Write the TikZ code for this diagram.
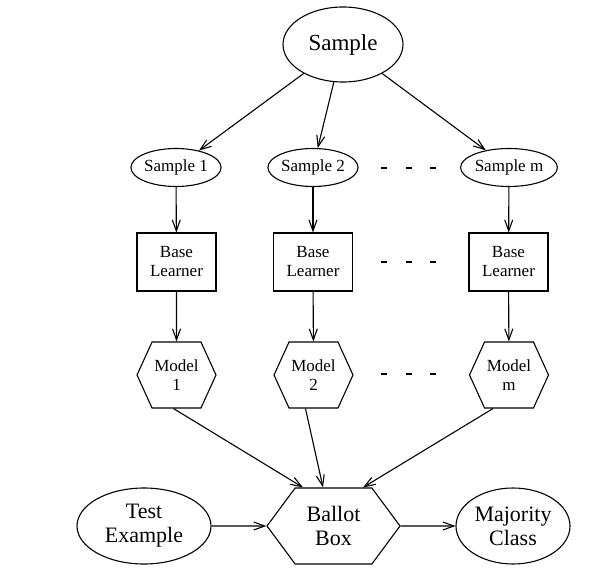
\documentclass[tikz,border=0pt]{standalone}
\usepackage{fontspec}
\setmainfont{Liberation Serif}
\usetikzlibrary{shapes.geometric,shapes.symbols,arrows.meta,calc}
\begin{document}
\begin{tikzpicture}[x=1pt,y=-1pt,
  every node/.style={inner sep=0pt, align=center, line width=1.1pt},
  small/.style={font=\fontsize{17}{19}\selectfont},
  big/.style={font=\fontsize{22}{24}\selectfont},
  ell/.style={draw, ellipse},
  boxnode/.style={draw, rectangle, small, minimum width=79pt, minimum height=58pt},
  hexmodel/.style={draw, signal, signal to=east and west, signal pointer angle=131, small, minimum width=79pt, minimum height=66pt},
  hexballot/.style={draw, signal, signal to=east and west, signal pointer angle=107, big, minimum width=133pt, minimum height=76pt},
  conn/.style={line width=1.1pt, -{Straight Barb[length=11pt,width=8pt,line width=1.1pt]}},
  dots/.style={line width=1.1pt, dash pattern=on 6pt off 18.5pt}
]
\useasboundingbox (0,0) rectangle (602,588);

\node[ell, font=\fontsize{23}{25}\selectfont, minimum width=120pt, minimum height=75pt] (s) at (343,44.5) {Sample};

\node[ell, small, minimum width=88pt, minimum height=38pt] (s1) at (176,167.5) {Sample 1};
\node[ell, small, minimum width=90pt, minimum height=38pt] (s2) at (313,167.5) {Sample 2};
\node[ell, small, minimum width=88pt, minimum height=38pt] (sm) at (509,167.5) {Sample m};

\node[boxnode] (b1) at (176.5,262) {Base\\Learner};
\node[boxnode] (b2) at (313,262) {Base\\Learner};
\node[boxnode] (bm) at (508.5,262) {Base\\Learner};

\node[hexmodel] (m1) at (176.5,375) {Model\\1};
\node[hexmodel] (m2) at (313.5,375) {Model\\2};
\node[hexmodel] (mm) at (509,375) {Model\\m};

\node[hexballot] (ballot) at (333.5,526) {Ballot\\Box};
\node[ell, big, minimum width=134pt, minimum height=76pt] (test) at (144,526) {Test\\Example};
\node[ell, big, minimum width=114pt, minimum height=76pt] (maj) at (513,526) {Majority\\Class};

\draw[conn] (s) -- (s1);
\draw[conn] (s) -- (s2);
\draw[conn] (s) -- (sm);
\draw[conn] (s1) -- (b1);
\draw[conn] (s2) -- (b2);
\draw[conn] (sm) -- (bm);
\draw[conn] (b1) -- (m1);
\draw[conn] (b2) -- (m2);
\draw[conn] (bm) -- (mm);
\draw[conn] ($(m1.south)+(-3,0)$) -- ($(ballot.north)+(-30.5,0)$);
\draw[conn] ($(m2.south)+(-8,0)$) -- ($(ballot.north)+(-10.5,0)$);
\draw[conn] ($(mm.south)+(-16,0)$) -- ($(ballot.north)+(29.5,0)$);
\draw[conn] (test) -- (ballot);
\draw[conn] (ballot) -- (maj);

\draw[dots] (381,168) -- (436,168);
\draw[dots] (381,262) -- (436,262);
\draw[dots] (381,374) -- (436,374);
\end{tikzpicture}
\end{document}
